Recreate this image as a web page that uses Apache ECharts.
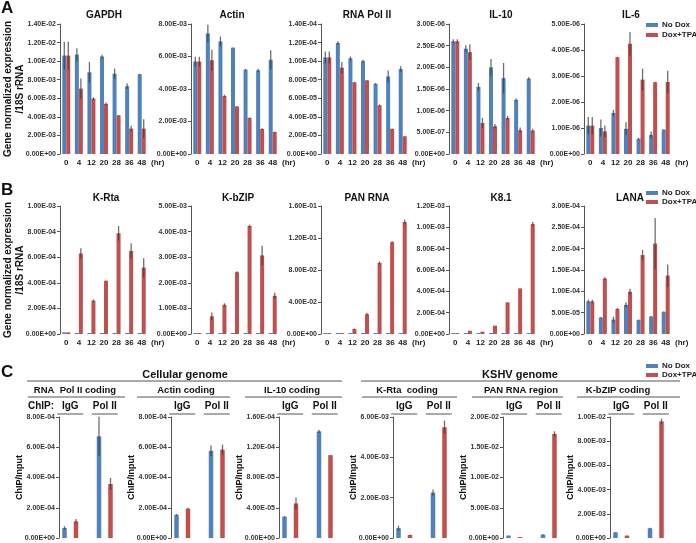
<!DOCTYPE html>
<html><head><meta charset="utf-8">
<script src="https://cdn.jsdelivr.net/npm/echarts@6/dist/echarts.min.js"></script>
<style>html,body{margin:0;padding:0;background:#fff}#c{width:696px;height:543px}</style>
</head><body><div id="c"></div>
<script>
// ---------- categories ----------
const hours = ['0','4','12','20','28','36','48'];
const chipGroups = ['IgG','Pol II'];
const seriesNames = ['No Dox','Dox+TPA'];

// ---------- Row A ----------
const gapdhAxis = [0, 1.4e-2, 2e-3];
const gapdhNoDox = [1.06e-2, 1.07e-2, 0.88e-2, 1.05e-2, 0.865e-2, 0.73e-2, 0.86e-2];
const gapdhNoDoxErr = [1.5e-3, 0.7e-3, 1.1e-3, 0.2e-3, 0.55e-3, 0.3e-3, 0.05e-3];
const gapdhDoxTpa = [1.06e-2, 0.704e-2, 0.596e-2, 0.54e-2, 0.416e-2, 0.273e-2, 0.273e-2];
const gapdhDoxTpaErr = [1.5e-3, 1.1e-3, 0.15e-3, 0.15e-3, 0.05e-3, 0.3e-3, 1.0e-3];

const actinAxis = [0, 8e-3, 2e-3];
const actinNoDox = [5.69e-3, 7.42e-3, 6.93e-3, 6.54e-3, 5.19e-3, 5.15e-3, 5.8e-3];
const actinNoDoxErr = [0.3e-3, 0.54e-3, 0.3e-3, 0.02e-3, 0.05e-3, 0.1e-3, 0.58e-3];
const actinDoxTpa = [5.69e-3, 5.77e-3, 3.57e-3, 2.92e-3, 2.22e-3, 1.54e-3, 1.35e-3];
const actinDoxTpaErr = [0.3e-3, 0.64e-3, 0.08e-3, 0.03e-3, 0.03e-3, 0.05e-3, 0.03e-3];

const polAxis = [0, 1.4e-4, 2e-5];
const polNoDox = [1.04e-4, 1.195e-4, 1.03e-4, 1.0e-4, 0.755e-4, 0.835e-4, 0.915e-4];
const polNoDoxErr = [0.065e-4, 0.02e-4, 0.02e-4, 0.015e-4, 0.01e-4, 0.065e-4, 0.03e-4];
const polDoxTpa = [1.04e-4, 0.93e-4, 0.772e-4, 0.793e-4, 0.524e-4, 0.27e-4, 0.19e-4];
const polDoxTpaErr = [0.065e-4, 0.06e-4, 0.005e-4, 0.005e-4, 0.01e-4, 0.005e-4, 0.005e-4];

const il10Axis = [0, 3e-6, 5e-7];
const il10NoDox = [2.6e-6, 2.43e-6, 1.55e-6, 2.0e-6, 1.75e-6, 1.25e-6, 1.74e-6];
const il10NoDoxErr = [0.05e-6, 0.08e-6, 0.09e-6, 0.19e-6, 0.35e-6, 0.03e-6, 0.03e-6];
const il10DoxTpa = [2.6e-6, 2.35e-6, 0.715e-6, 0.64e-6, 0.83e-6, 0.55e-6, 0.54e-6];
const il10DoxTpaErr = [0.05e-6, 0.18e-6, 0.12e-6, 0.05e-6, 0.05e-6, 0.06e-6, 0.04e-6];

const il6Axis = [0, 5e-6, 1e-6];
const il6NoDox = [1.09e-6, 1.0e-6, 1.58e-6, 0.97e-6, 0.58e-6, 0.74e-6, 0.94e-6];
const il6NoDoxErr = [0.33e-6, 0.33e-6, 0.12e-6, 0.25e-6, 0.04e-6, 0.13e-6, 0.01e-6];
const il6DoxTpa = [1.09e-6, 0.87e-6, 3.72e-6, 4.24e-6, 2.86e-6, 2.76e-6, 2.77e-6];
const il6DoxTpaErr = [0.33e-6, 0.23e-6, 0.02e-6, 0.45e-6, 0.42e-6, 0.02e-6, 0.43e-6];

// ---------- Row B ----------
const krtaAxis = [0, 1e-3, 2e-4];
const krtaNoDox = [1.3e-5, 3e-6, 2e-6, 2e-6, 3e-6, 3e-6, 3e-6];
const krtaNoDoxErr = [0, 0, 0, 0, 0, 0, 0];
const krtaDoxTpa = [1.3e-5, 6.29e-4, 2.6e-4, 4.16e-4, 7.87e-4, 6.49e-4, 5.19e-4];
const krtaDoxTpaErr = [0, 0.4e-4, 0.1e-4, 0.02e-4, 0.57e-4, 0.6e-4, 0.73e-4];

const kbzipAxis = [0, 5e-3, 1e-3];
const kbzipNoDox = [1.5e-5, 1e-5, 1e-5, 1e-5, 1e-5, 1e-5, 1e-5];
const kbzipNoDoxErr = [0, 0, 0, 0, 0, 0, 0];
const kbzipDoxTpa = [1.5e-5, 0.69e-3, 1.14e-3, 2.41e-3, 4.22e-3, 3.07e-3, 1.49e-3];
const kbzipDoxTpaErr = [0, 0.15e-3, 0.06e-3, 0.04e-3, 0.05e-3, 0.38e-3, 0.12e-3];

const panAxis = [0, 0.16, 0.04];
const panNoDox = [5e-4, 4e-4, 4e-4, 4e-4, 4e-4, 4e-4, 4e-4];
const panNoDoxErr = [0, 0, 0, 0, 0, 0, 0];
const panDoxTpa = [8e-4, 1e-3, 6.3e-3, 2.47e-2, 8.88e-2, 1.148e-1, 1.40e-1];
const panDoxTpaErr = [0, 0, 5e-4, 2e-3, 2e-3, 1e-3, 3e-3];

const k81Axis = [0, 1.2e-3, 2e-4];
const k81NoDox = [4e-6, 3e-6, 3e-6, 3e-6, 3e-6, 3e-6, 3e-6];
const k81NoDoxErr = [0, 0, 0, 0, 0, 0, 0];
const k81DoxTpa = [5e-6, 3.1e-5, 2.2e-5, 7.8e-5, 2.97e-4, 4.28e-4, 1.03e-3];
const k81DoxTpaErr = [0, 0, 0, 0, 0, 0, 0.02e-3];

const lanaAxis = [0, 3e-4, 5e-5];
const lanaNoDox = [0.764e-4, 0.386e-4, 0.338e-4, 0.684e-4, 0.33e-4, 0.41e-4, 0.52e-4];
const lanaNoDoxErr = [0.04e-4, 0.01e-4, 0.07e-4, 0.06e-4, 0.01e-4, 0.01e-4, 0.01e-4];
const lanaDoxTpa = [0.764e-4, 1.30e-4, 0.587e-4, 0.99e-4, 1.85e-4, 2.12e-4, 1.37e-4];
const lanaDoxTpaErr = [0.04e-4, 0.03e-4, 0.02e-4, 0.07e-4, 0.12e-4, 0.6e-4, 0.26e-4];

// ---------- Row C (ChIP) ----------
const rnapolChipAxis = [0, 8e-4, 2e-4];
const rnapolChipNoDox = [0.66e-4, 6.72e-4];
const rnapolChipNoDoxErr = [0.12e-4, 1.3e-4];
const rnapolChipDoxTpa = [1.1e-4, 3.57e-4];
const rnapolChipDoxTpaErr = [0.15e-4, 0.4e-4];

const actinChipAxis = [0, 8e-4, 2e-4];
const actinChipNoDox = [1.54e-4, 5.77e-4];
const actinChipNoDoxErr = [0.05e-4, 0.35e-4];
const actinChipDoxTpa = [1.94e-4, 5.84e-4];
const actinChipDoxTpaErr = [0.06e-4, 0.33e-4];

const il10ChipAxis = [0, 1.6e-4, 4e-5];
const il10ChipNoDox = [2.8e-5, 1.41e-4];
const il10ChipNoDoxErr = [0.1e-5, 0.2e-5];
const il10ChipDoxTpa = [4.56e-5, 1.096e-4];
const il10ChipDoxTpaErr = [0.8e-5, 0];

const krtaChipAxis = [0, 6e-3, 2e-3];
const krtaChipNoDox = [0.49e-3, 2.25e-3];
const krtaChipNoDoxErr = [0.12e-3, 0.15e-3];
const krtaChipDoxTpa = [0.15e-3, 5.49e-3];
const krtaChipDoxTpaErr = [0.02e-3, 0.33e-3];

const panChipAxis = [0, 2e-2, 5e-3];
const panChipNoDox = [0.38e-3, 0.55e-3];
const panChipNoDoxErr = [0.05e-3, 0.1e-3];
const panChipDoxTpa = [0.16e-3, 17.2e-3];
const panChipDoxTpaErr = [0.02e-3, 0.45e-3];

const kbzipChipAxis = [0, 1e-2, 2e-3];
const kbzipChipNoDox = [0.47e-3, 0.8e-3];
const kbzipChipNoDoxErr = [0.02e-3, 0.05e-3];
const kbzipChipDoxTpa = [0.19e-3, 9.64e-3];
const kbzipChipDoxTpaErr = [0.02e-3, 0.22e-3];

// ---------- panel definitions ----------
const rowA = [
  {title:'GAPDH', nd:gapdhNoDox, ndE:gapdhNoDoxErr, dt:gapdhDoxTpa, dtE:gapdhDoxTpaErr, axis:gapdhAxis},
  {title:'Actin', nd:actinNoDox, ndE:actinNoDoxErr, dt:actinDoxTpa, dtE:actinDoxTpaErr, axis:actinAxis},
  {title:'RNA Pol II', nd:polNoDox, ndE:polNoDoxErr, dt:polDoxTpa, dtE:polDoxTpaErr, axis:polAxis},
  {title:'IL-10', nd:il10NoDox, ndE:il10NoDoxErr, dt:il10DoxTpa, dtE:il10DoxTpaErr, axis:il10Axis},
  {title:'IL-6', nd:il6NoDox, ndE:il6NoDoxErr, dt:il6DoxTpa, dtE:il6DoxTpaErr, axis:il6Axis}
];
const rowB = [
  {title:'K-Rta', nd:krtaNoDox, ndE:krtaNoDoxErr, dt:krtaDoxTpa, dtE:krtaDoxTpaErr, axis:krtaAxis},
  {title:'K-bZIP', nd:kbzipNoDox, ndE:kbzipNoDoxErr, dt:kbzipDoxTpa, dtE:kbzipDoxTpaErr, axis:kbzipAxis},
  {title:'PAN RNA', nd:panNoDox, ndE:panNoDoxErr, dt:panDoxTpa, dtE:panDoxTpaErr, axis:panAxis},
  {title:'K8.1', nd:k81NoDox, ndE:k81NoDoxErr, dt:k81DoxTpa, dtE:k81DoxTpaErr, axis:k81Axis},
  {title:'LANA', nd:lanaNoDox, ndE:lanaNoDoxErr, dt:lanaDoxTpa, dtE:lanaDoxTpaErr, axis:lanaAxis}
];
const rowC = [
  {title:'RNA  Pol II coding', nd:rnapolChipNoDox, ndE:rnapolChipNoDoxErr, dt:rnapolChipDoxTpa, dtE:rnapolChipDoxTpaErr, axis:rnapolChipAxis},
  {title:'Actin coding', nd:actinChipNoDox, ndE:actinChipNoDoxErr, dt:actinChipDoxTpa, dtE:actinChipDoxTpaErr, axis:actinChipAxis},
  {title:'IL-10 coding', nd:il10ChipNoDox, ndE:il10ChipNoDoxErr, dt:il10ChipDoxTpa, dtE:il10ChipDoxTpaErr, axis:il10ChipAxis},
  {title:'K-Rta  coding', nd:krtaChipNoDox, ndE:krtaChipNoDoxErr, dt:krtaChipDoxTpa, dtE:krtaChipDoxTpaErr, axis:krtaChipAxis},
  {title:'PAN RNA region', nd:panChipNoDox, ndE:panChipNoDoxErr, dt:panChipDoxTpa, dtE:panChipDoxTpaErr, axis:panChipAxis},
  {title:'K-bZIP coding', nd:kbzipChipNoDox, ndE:kbzipChipNoDoxErr, dt:kbzipChipDoxTpa, dtE:kbzipChipDoxTpaErr, axis:kbzipChipAxis}
];

// ---------- layout ----------
const FONT = '"Liberation Sans", Arial, sans-serif';
const colors = ['#4F81BD', '#C0504D'];
const layoutA = {top:24, height:130, width:88, lefts:[60,191,321,449,584], titleX:[104,232,367,501,631], titleY:15};
const layoutB = {top:206, height:128, width:88, lefts:[60,191,321,449,584], titleX:[106,238,367,501,630], titleY:198};
const layoutC = {top:417, height:121, width:69, axisX:[59,171,279,393,503,610],
  subX:[75,186,292,407,521,618], subLine:[[28,125],[137,230],[245,342],[362,457],[472,563],[577,680]]};

function fmtE(v){
  if (Math.abs(v) < 1e-15) return '0.00E+00';
  const s = v.toExponential(2);
  const parts = s.split('e');
  const sign = parts[1][0] === '-' ? '-' : '+';
  let d = parts[1].replace(/[+-]/, '');
  if (d.length < 2) d = '0' + d;
  return parts[0] + 'E' + sign + d;
}

function errRender(shift){
  return function(params, api){
    const e = api.value(2);
    if (!(e > 0)) return null;
    const i = api.value(0), v = api.value(1);
    const a = api.coord([i, v + e]);
    const b = api.coord([i, Math.max(v - e, 0)]);
    return {type:'line', shape:{x1:a[0]+shift, y1:a[1], x2:a[0]+shift, y2:b[1]},
      style:{stroke:'rgba(60,60,60,0.75)', lineWidth:1.3}};
  };
}

const grids=[], xAxes=[], yAxes=[], series=[], graphics=[];

function addPanel(p, g, cats, o){
  const gi = grids.length;
  grids.push({left:g.left, top:g.top, width:g.width, height:g.height});
  xAxes.push({type:'category', gridIndex:gi, data:cats,
    axisLine:{show:false}, axisTick:{show:false},
    axisLabel:{show:o.xLabels, interval:0, fontSize:8, fontWeight:'bold', color:'#222', fontFamily:FONT, margin:5},
    name:o.xLabels ? '(hr)' : '', nameLocation:'end', nameGap:3, nameMoveOverlap:false,
    nameTextStyle:{fontSize:8, fontWeight:'bold', color:'#222', fontFamily:FONT, verticalAlign:'top', padding:[5,0,0,0]}});
  yAxes.push({type:'value', gridIndex:gi, min:p.axis[0], max:p.axis[1], interval:p.axis[2], offset:o.yOffset||0,
    axisLine:{show:true, lineStyle:{color:'#555', width:1}},
    axisTick:{show:true, length:3, lineStyle:{color:'#555'}},
    splitLine:{show:false},
    axisLabel:{formatter:fmtE, fontSize:7, fontWeight:'bold', color:'#333', fontFamily:FONT, margin:4, showMaxLabel:true, showMinLabel:true},
    name:o.yName||'', nameLocation:'middle', nameGap:o.yNameGap||30, nameMoveOverlap:false,
    nameTextStyle:{fontSize:o.yNameSize||10, fontWeight:'bold', color:'#111', fontFamily:FONT, lineHeight:12}});
  [p.nd, p.dt].forEach(function(vals, k){
    series.push({type:'bar', name:seriesNames[k], xAxisIndex:gi, yAxisIndex:gi, data:vals,
      barWidth:o.barWidth, barGap:o.barGap, barMinHeight:o.minH||0,
      itemStyle:{color:colors[k]}, silent:true, animation:false});
  });
  [[p.nd,p.ndE],[p.dt,p.dtE]].forEach(function(pair, k){
    series.push({type:'custom', name:seriesNames[k], xAxisIndex:gi, yAxisIndex:gi,
      data:pair[0].map(function(v,i){return [i, v, pair[1][i]];}),
      encode:{x:0, y:1}, renderItem:errRender(k===0 ? -o.shift : o.shift),
      z:5, silent:true, animation:false});
  });
  return gi;
}

function textG(x, y, text, size, align){
  return {type:'text', x:x, y:y, silent:true,
    style:{text:text, font:'bold '+size+'px '+FONT, fill:'#111', textAlign:align||'center', textVerticalAlign:'middle'}};
}
function lineG(x1, x2, y){
  return {type:'line', silent:true, shape:{x1:x1, y1:y, x2:x2, y2:y}, style:{stroke:'#555', lineWidth:1}};
}

const yNameAB = 'Gene normalized expression\n/18S rRNA';
rowA.forEach(function(p, k){
  addPanel(p, {left:layoutA.lefts[k], top:layoutA.top, width:layoutA.width, height:layoutA.height}, hours,
    {xLabels:true, barWidth:4, barGap:'0%', shift:2, yName:k===0?yNameAB:'', yNameGap:34});
  graphics.push(textG(layoutA.titleX[k], layoutA.titleY, p.title, 10));
});
rowB.forEach(function(p, k){
  addPanel(p, {left:layoutB.lefts[k], top:layoutB.top, width:layoutB.width, height:layoutB.height}, hours,
    {xLabels:true, barWidth:4, barGap:'0%', shift:2, minH:1, yName:k===0?yNameAB:'', yNameGap:34});
  graphics.push(textG(layoutB.titleX[k], layoutB.titleY, p.title, 10));
});
const cIdx = [];
rowC.forEach(function(p, k){
  const gi = addPanel(p, {left:layoutC.axisX[k]-6, top:layoutC.top, width:layoutC.width, height:layoutC.height}, chipGroups,
    {xLabels:false, barWidth:4.5, barGap:'155%', shift:5.75, yOffset:-6, yName:'ChIP/Input', yNameGap:33, yNameSize:9});
  cIdx.push(gi);
  graphics.push(textG(layoutC.subX[k], 390, p.title, 9.5));
  graphics.push(lineG(layoutC.subLine[k][0], layoutC.subLine[k][1], 397));
});

// panel letters & headers
graphics.push(textG(1, 8, 'A', 17, 'left'));
graphics.push(textG(1, 190, 'B', 17, 'left'));
graphics.push(textG(1, 372, 'C', 17, 'left'));
graphics.push(textG(185, 375, 'Cellular genome', 11));
graphics.push(lineG(27, 342, 381));
graphics.push(textG(520, 375, 'KSHV genome', 11));
graphics.push(lineG(361, 680, 381));
graphics.push(textG(28, 406, 'ChIP:', 10, 'left'));

const legendBase = {data:seriesNames, orient:'vertical', icon:'rect', itemWidth:12, itemHeight:4, padding:0,
  selectedMode:false, textStyle:{fontSize:8, fontWeight:'bold', color:'#222', fontFamily:FONT, padding:[0,0,0,-1]}};

const chart = echarts.init(document.getElementById('c'), null, {renderer:'canvas'});
chart.setOption({
  animation:false,
  backgroundColor:'#fff',
  grid:grids, xAxis:xAxes, yAxis:yAxes, series:series,
  legend:[
    Object.assign({}, legendBase, {left:646, top:21, itemGap:2}),
    Object.assign({}, legendBase, {left:646, top:189, itemGap:1}),
    Object.assign({}, legendBase, {left:646, top:362, itemGap:1})
  ]
});

// IgG / Pol II group labels positioned on the category axis
cIdx.forEach(function(gi){
  chipGroups.forEach(function(name, j){
    const cx = chart.convertToPixel({xAxisIndex:gi}, j);
    graphics.push(textG(cx, 406, name, 10));
    graphics.push(lineG(cx-13, cx+13, 414));
  });
});
chart.setOption({graphic:graphics});
</script></body></html>
